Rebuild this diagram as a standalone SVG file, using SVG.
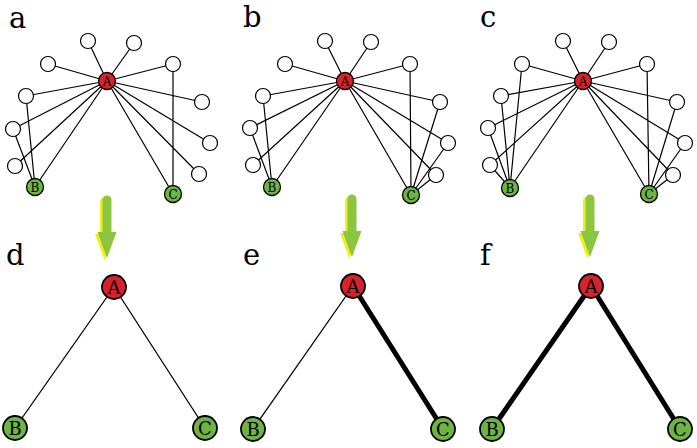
<svg xmlns="http://www.w3.org/2000/svg" xmlns:xlink="http://www.w3.org/1999/xlink" width="697" height="448" viewBox="0 0 697 448">
<style>
.e{stroke:#000;stroke-width:1.2;fill:none}
.et{stroke:#000;stroke-width:1.3;fill:none}
.eb{stroke:#000;stroke-width:5;fill:none}
.w{fill:#fff;stroke:#000;stroke-width:1.2}
.r{fill:#d7222a;stroke:#000;stroke-width:1.3}
.g{fill:#6db444;stroke:#000;stroke-width:1.3}
.rb{fill:#d7222a;stroke:#000;stroke-width:1.8}
.gb{fill:#6db444;stroke:#000;stroke-width:1.8}
.ls{font-family:"DejaVu Serif","Liberation Serif",serif;text-anchor:middle;fill:#000}
.s{font-size:12px}
.b{font-size:18px}
.pl{font-family:"DejaVu Serif","Liberation Serif",serif;font-size:29px;fill:#000}
</style>
<defs>
<g id="arrow">
<g transform="translate(-2.5,2)" fill="#f2ee1a">
<path d="M-4.5,-58 a4.5,4.5 0 0 1 9,0 V-26 H9.5 L0,0 L-9.5,-26 H-4.5 Z"/>
</g>
<path fill="#8cc540" d="M-4.5,-58 a4.5,4.5 0 0 1 9,0 V-26 H9.5 L0,0 L-9.5,-26 H-4.5 Z"/>
</g>
</defs>

<g id="labels">
<text class="pl" x="9" y="28">a</text>
<text class="pl" x="243" y="27">b</text>
<text class="pl" x="480" y="27">c</text>
<text class="pl" x="6" y="265">d</text>
<text class="pl" x="243" y="265">e</text>
<text class="pl" x="480" y="265">f</text>
</g>

<g id="connectors">
<!-- panel a -->
<path class="e" d="M107,81L88,41M107,81L134,43M107,81L48,64M107,81L173,64M107,81L26,96M107,81L202,102M107,81L13,129M107,81L210,143M107,81L15,166M107,81L199,174M107,81L35,187M107,81L173,194M35,187L26,96M35,187L13,129M173,194L173,64"/>
<!-- panel b -->
<path class="e" d="M345,81L325,41M345,81L371,42M345,81L285,64M345,81L410,64M345,81L263,96M345,81L440,102M345,81L250,128M345,81L448,143M345,81L253,165M345,81L436,175M345,81L272,187M345,81L411,195M272,187L263,96M272,187L250,128M411,195L410,64M411,195L440,102M411,195L448,143M411,195L436,175"/>
<!-- panel c -->
<path class="e" d="M583,81L563,41M583,81L609,42M583,81L522,64M583,81L647,64M583,81L501,96M583,81L677,102M583,81L488,128M583,81L685,143M583,81L490,165M583,81L673,175M583,81L510,188M583,81L649,194M510,188L522,64M510,188L501,96M510,188L488,128M510,188L490,165M649,194L647,64M649,194L677,102M649,194L685,143M649,194L673,175"/>
<!-- bottom -->
<path class="et" d="M114,287L15,428M114,287L205,428"/>
<path class="et" d="M353,286L253,429"/>
<path class="eb" d="M353,286L443,429"/>
<path class="eb" d="M591,286L492,429M591,286L680,429"/>
<use xlink:href="#arrow" x="107" y="258"/>
<use xlink:href="#arrow" x="352" y="257"/>
<use xlink:href="#arrow" x="590" y="257"/>
</g>

<g id="panel-a">
<g id="a-w1"><circle class="w" cx="88" cy="41" r="7.5"/></g>
<g id="a-w2"><circle class="w" cx="134" cy="43" r="7.5"/></g>
<g id="a-w3"><circle class="w" cx="48" cy="64" r="7.5"/></g>
<g id="a-w4"><circle class="w" cx="173" cy="64" r="7.5"/></g>
<g id="a-w5"><circle class="w" cx="26" cy="96" r="7.5"/></g>
<g id="a-w6"><circle class="w" cx="202" cy="102" r="7.5"/></g>
<g id="a-w7"><circle class="w" cx="13" cy="129" r="7.5"/></g>
<g id="a-w8"><circle class="w" cx="210" cy="143" r="7.5"/></g>
<g id="a-w9"><circle class="w" cx="15" cy="166" r="7.5"/></g>
<g id="a-w10"><circle class="w" cx="199" cy="174" r="7.5"/></g>
<g id="a-A"><circle class="r" cx="107" cy="81" r="8.5"/><text class="ls s" x="107" y="85.5">A</text></g>
<g id="a-B"><circle class="g" cx="35" cy="187" r="8.5"/><text class="ls s" x="35" y="191.5">B</text></g>
<g id="a-C"><circle class="g" cx="173" cy="194" r="8.5"/><text class="ls s" x="173" y="198.5">C</text></g>
</g>

<g id="panel-b">
<g id="b-w1"><circle class="w" cx="325" cy="41" r="7.5"/></g>
<g id="b-w2"><circle class="w" cx="371" cy="42" r="7.5"/></g>
<g id="b-w3"><circle class="w" cx="285" cy="64" r="7.5"/></g>
<g id="b-w4"><circle class="w" cx="410" cy="64" r="7.5"/></g>
<g id="b-w5"><circle class="w" cx="263" cy="96" r="7.5"/></g>
<g id="b-w6"><circle class="w" cx="440" cy="102" r="7.5"/></g>
<g id="b-w7"><circle class="w" cx="250" cy="128" r="7.5"/></g>
<g id="b-w8"><circle class="w" cx="448" cy="143" r="7.5"/></g>
<g id="b-w9"><circle class="w" cx="253" cy="165" r="7.5"/></g>
<g id="b-w10"><circle class="w" cx="436" cy="175" r="7.5"/></g>
<g id="b-A"><circle class="r" cx="345" cy="81" r="8.5"/><text class="ls s" x="345" y="85.5">A</text></g>
<g id="b-B"><circle class="g" cx="272" cy="187" r="8.5"/><text class="ls s" x="272" y="191.5">B</text></g>
<g id="b-C"><circle class="g" cx="411" cy="195" r="8.5"/><text class="ls s" x="411" y="199.5">C</text></g>
</g>

<g id="panel-c">
<g id="c-w1"><circle class="w" cx="563" cy="41" r="7.5"/></g>
<g id="c-w2"><circle class="w" cx="609" cy="42" r="7.5"/></g>
<g id="c-w3"><circle class="w" cx="522" cy="64" r="7.5"/></g>
<g id="c-w4"><circle class="w" cx="647" cy="64" r="7.5"/></g>
<g id="c-w5"><circle class="w" cx="501" cy="96" r="7.5"/></g>
<g id="c-w6"><circle class="w" cx="677" cy="102" r="7.5"/></g>
<g id="c-w7"><circle class="w" cx="488" cy="128" r="7.5"/></g>
<g id="c-w8"><circle class="w" cx="685" cy="143" r="7.5"/></g>
<g id="c-w9"><circle class="w" cx="490" cy="165" r="7.5"/></g>
<g id="c-w10"><circle class="w" cx="673" cy="175" r="7.5"/></g>
<g id="c-A"><circle class="r" cx="583" cy="81" r="8.5"/><text class="ls s" x="583" y="85.5">A</text></g>
<g id="c-B"><circle class="g" cx="510" cy="188" r="8.5"/><text class="ls s" x="510" y="192.5">B</text></g>
<g id="c-C"><circle class="g" cx="649" cy="194" r="8.5"/><text class="ls s" x="649" y="198.5">C</text></g>
</g>

<g id="panel-d">
<g id="d-A"><circle class="rb" cx="114" cy="287" r="12"/><text class="ls b" x="114" y="293.5">A</text></g>
<g id="d-B"><circle class="gb" cx="15" cy="428" r="12"/><text class="ls b" x="15" y="434.5">B</text></g>
<g id="d-C"><circle class="gb" cx="205" cy="428" r="12"/><text class="ls b" x="205" y="434.5">C</text></g>
</g>
<g id="panel-e">
<g id="e-A"><circle class="rb" cx="353" cy="286" r="12"/><text class="ls b" x="353" y="292.5">A</text></g>
<g id="e-B"><circle class="gb" cx="253" cy="429" r="12"/><text class="ls b" x="253" y="435.5">B</text></g>
<g id="e-C"><circle class="gb" cx="443" cy="429" r="12"/><text class="ls b" x="443" y="435.5">C</text></g>
</g>
<g id="panel-f">
<g id="f-A"><circle class="rb" cx="591" cy="286" r="12"/><text class="ls b" x="591" y="292.5">A</text></g>
<g id="f-B"><circle class="gb" cx="492" cy="429" r="12"/><text class="ls b" x="492" y="435.5">B</text></g>
<g id="f-C"><circle class="gb" cx="680" cy="429" r="12"/><text class="ls b" x="680" y="435.5">C</text></g>
</g>
</svg>
